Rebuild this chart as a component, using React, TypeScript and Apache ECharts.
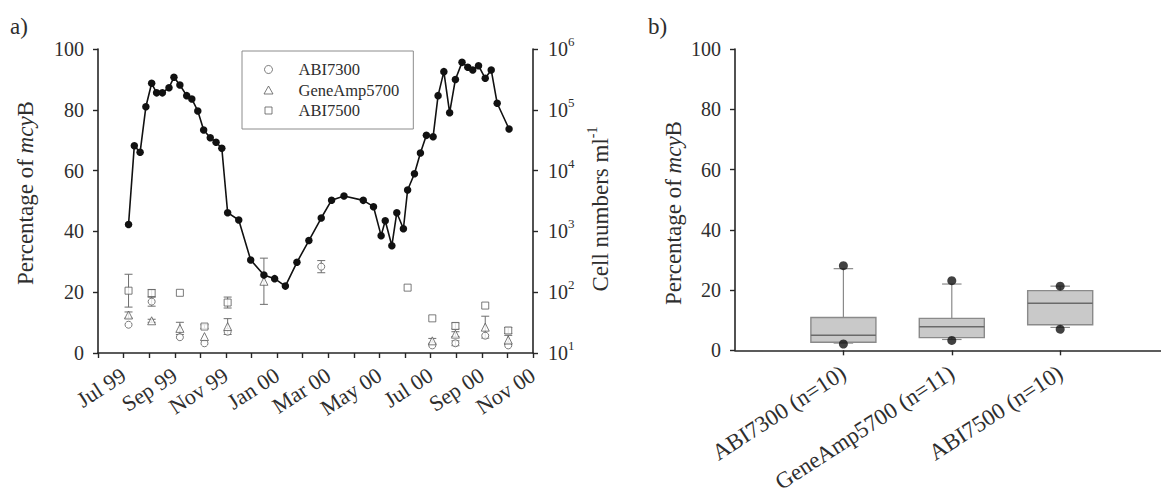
import React, { useEffect, useRef } from 'react';
import * as echarts from 'echarts';

const FONT = "'Liberation Serif', 'Times New Roman', serif";
const TEXT = '#2e2e2e';
const AXIS = '#262626';

// x-axis (left panel): month labels shown every second month
const xTickLabels = ['Jul 99', 'Sep 99', 'Nov 99', 'Jan 00', 'Mar 00', 'May 00', 'Jul 00', 'Sep 00', 'Nov 00'];
const logTickExponents = [1, 2, 3, 4, 5, 6];

// Cell numbers (cells per ml), right log axis
const cellDates = [
  '1999-07-07', '1999-07-14', '1999-07-21', '1999-07-28', '1999-08-04', '1999-08-10', '1999-08-17',
  '1999-08-25', '1999-08-31', '1999-09-07', '1999-09-15', '1999-09-21', '1999-09-28', '1999-10-05',
  '1999-10-13', '1999-10-20', '1999-10-27', '1999-11-03', '1999-11-16', '1999-11-30', '1999-12-16',
  '1999-12-29', '2000-01-11', '2000-01-25', '2000-02-08', '2000-02-22', '2000-03-05', '2000-03-20',
  '2000-04-12', '2000-04-24', '2000-05-03', '2000-05-08', '2000-05-16', '2000-05-22', '2000-05-30',
  '2000-06-04', '2000-06-12', '2000-06-19', '2000-06-26', '2000-07-04', '2000-07-10', '2000-07-17',
  '2000-07-24', '2000-07-31', '2000-08-08', '2000-08-15', '2000-08-21', '2000-08-28', '2000-09-05',
  '2000-09-12', '2000-09-19', '2000-10-03',
];
const cellCounts = [
  1300, 25700, 20000, 112000, 273000, 190000, 190000,
  231000, 343000, 256000, 171000, 151000, 95500, 46600,
  34800, 29200, 23300, 2030, 1540, 339, 192,
  167, 126, 310, 708, 1660, 3260, 3820,
  3240, 2550, 851, 1500, 582, 2030, 1107,
  4790, 8890, 19500, 38000, 36100, 171000, 424000,
  89500, 316000, 603000, 501000, 452000, 531000, 330000,
  452000, 128000, 48300,
];

// Percentage of mcyB per instrument (left axis), with error (+/-)
const abi7300Dates = ['1999-07-07', '1999-08-04', '1999-09-07', '1999-10-06', '1999-11-03', '2000-02-22', '2000-07-03', '2000-07-31', '2000-09-05', '2000-10-02'];
const abi7300Values = [9.3, 16.9, 5.2, 3.2, 7.0, 28.4, 2.5, 3.2, 5.7, 2.5];
const abi7300Errors = [0, 1.5, 0, 0, 0, 2.0, 0, 0.8, 0, 0];

const geneAmpDates = ['1999-07-07', '1999-08-04', '1999-09-07', '1999-10-06', '1999-11-03', '1999-12-16', '2000-07-03', '2000-07-31', '2000-09-05', '2000-10-02'];
const geneAmpValues = [12.5, 10.6, 8.1, 5.4, 8.7, 23.6, 4.0, 6.2, 8.5, 4.3];
const geneAmpErrors = [1.0, 0.5, 2.0, 0, 2.6, 7.6, 0.8, 0.8, 3.6, 1.5];

const abi7500Dates = ['1999-07-07', '1999-08-04', '1999-09-07', '1999-10-06', '1999-11-03', '2000-06-04', '2000-07-03', '2000-07-31', '2000-09-05', '2000-10-02'];
const abi7500Values = [20.5, 19.7, 19.8, 8.7, 16.6, 21.5, 11.4, 8.9, 15.6, 7.4];
const abi7500Errors = [5.4, 1.2, 0, 0.6, 1.8, 0, 0, 1.0, 0, 1.0];

// Box plot (right panel)
const boxCategories = ['ABI7300 (n=10)', 'GeneAmp5700 (n=11)', 'ABI7500 (n=10)'];
const boxLow = [2.4, 3.6, 7.6];
const boxQ1 = [2.7, 4.2, 8.5];
const boxMedian = [5.0, 7.8, 15.6];
const boxQ3 = [10.9, 10.6, 19.8];
const boxHigh = [27.1, 22.0, 21.3];
const boxOutLow = [2.1, 3.3, 7.0];
const boxOutHigh = [28.1, 23.1, 21.3];

// months since 1 June 1999
function toMonth(d: string): number {
  const [y, m, day] = d.split('-').map(Number);
  const dim = new Date(y, m, 0).getDate();
  return (y - 1999) * 12 + (m - 6) + (day - 1) / dim;
}

const pts = (dates: string[], vals: number[]) => dates.map((d, i) => [toMonth(d), vals[i]]);
const errPts = (dates: string[], vals: number[], errs: number[]) =>
  dates.map((d, i) => [toMonth(d), vals[i], errs[i]]);

export default function App() {
  const ref = useRef<HTMLDivElement>(null);
  useEffect(() => {
    if (!ref.current) return;
    const chart = echarts.init(ref.current, undefined, { renderer: 'svg' });

    const errorBarSeries = (data: number[][]) => ({
      type: 'custom',
      xAxisIndex: 0,
      yAxisIndex: 0,
      silent: true,
      z: 2,
      encode: { x: 0, y: 1 },
      data,
      renderItem: (_p: any, api: any) => {
        const x = api.value(0);
        const y = api.value(1);
        const e = api.value(2);
        if (!e) return null;
        const top = api.coord([x, y + e]);
        const bot = api.coord([x, y - e]);
        const hw = 4;
        const st = { stroke: '#6e6e6e', lineWidth: 1 };
        return {
          type: 'group',
          children: [
            { type: 'line', shape: { x1: top[0], y1: top[1], x2: bot[0], y2: bot[1] }, style: st },
            { type: 'line', shape: { x1: top[0] - hw, y1: top[1], x2: top[0] + hw, y2: top[1] }, style: st },
            { type: 'line', shape: { x1: bot[0] - hw, y1: bot[1], x2: bot[0] + hw, y2: bot[1] }, style: st },
          ],
        };
      },
    });

    const hollow = { color: '#fff', borderColor: '#5a5a5a', borderWidth: 1 };

    const option: any = {
      animation: false,
      backgroundColor: '#fff',
      textStyle: { fontFamily: FONT, color: TEXT },
      grid: [
        { left: 98, top: 49, width: 435, height: 304 },
        { left: 735, top: 49, width: 426, height: 303 },
      ],
      legend: {
        orient: 'vertical',
        left: 242,
        top: 51,
        data: [
          { name: 'ABI7300', icon: 'circle' },
          { name: 'GeneAmp5700', icon: 'path://M0,4M25,0L29.5,8L20.5,8ZM50,4' },
          { name: 'ABI7500', icon: 'path://M0,4M21.5,0.5H28.5V7.5H21.5ZM50,4' },
        ],
        symbolKeepAspect: true,
        itemWidth: 50,
        itemHeight: 8,
        itemGap: 3.5,
        padding: [10, 14, 10, 1],
        borderColor: '#8c8c8c',
        borderWidth: 1,
        itemStyle: { color: '#fff', borderColor: '#5a5a5a', borderWidth: 1 },
        textStyle: { fontFamily: FONT, fontSize: 16.5, color: TEXT, lineHeight: 17 },
        selectedMode: false,
      },
      xAxis: [
        {
          type: 'value',
          gridIndex: 0,
          min: 0,
          max: 17,
          interval: 1,
          splitLine: { show: false },
          axisLine: { show: true, lineStyle: { color: AXIS, width: 1.6 } },
          axisTick: { show: true, length: 5, lineStyle: { color: AXIS, width: 1.4 } },
          axisLabel: {
            rotate: 33,
            margin: 20,
            fontFamily: FONT,
            fontSize: 22,
            color: TEXT,
            formatter: (v: number) => {
              const r = Math.round(v);
              return r % 2 === 1 ? xTickLabels[(r - 1) / 2] : '';
            },
          },
        },
        {
          type: 'value',
          gridIndex: 1,
          min: 0,
          max: 3.93,
          splitLine: { show: false },
          axisLine: { show: true, lineStyle: { color: AXIS, width: 1.6 } },
          axisTick: { show: true, length: 5, customValues: [1, 2, 3], lineStyle: { color: AXIS, width: 1.4 } },
          axisLabel: {
            customValues: [1, 2, 3],
            rotate: 33,
            margin: 20,
            fontFamily: FONT,
            fontSize: 23,
            color: TEXT,
            formatter: (v: number) => boxCategories[Math.round(v) - 1] || '',
          },
        },
      ],
      yAxis: [
        {
          type: 'value',
          gridIndex: 0,
          min: 0,
          max: 100,
          interval: 20,
          splitLine: { show: false },
          axisLine: { show: true, lineStyle: { color: AXIS, width: 1.6 } },
          axisTick: { show: true, length: 5, lineStyle: { color: AXIS, width: 1.4 } },
          axisLabel: { margin: 14, fontFamily: FONT, fontSize: 20, color: TEXT },
        },
        {
          type: 'log',
          gridIndex: 0,
          position: 'right',
          logBase: 10,
          min: 10,
          max: 1000000,
          splitLine: { show: false },
          minorTick: { show: false },
          axisLine: { show: true, lineStyle: { color: AXIS, width: 1.6 } },
          axisTick: { show: true, length: 5, lineStyle: { color: AXIS, width: 1.4 } },
          axisLabel: {
            margin: 15,
            fontFamily: FONT,
            color: TEXT,
            formatter: (v: number) => {
              const e = Math.round(Math.log10(v));
              return logTickExponents.includes(e) ? `{b|10}{s|${e}}` : '';
            },
            rich: {
              b: { fontFamily: FONT, fontSize: 20, color: TEXT, lineHeight: 28 },
              s: { fontFamily: FONT, fontSize: 13, color: TEXT, lineHeight: 12, verticalAlign: 'top' },
            },
          },
        },
        {
          type: 'value',
          gridIndex: 1,
          min: 0,
          max: 100,
          interval: 20,
          splitLine: { show: false },
          axisLine: { show: true, lineStyle: { color: AXIS, width: 1.6 } },
          axisTick: { show: true, length: 5, lineStyle: { color: AXIS, width: 1.4 } },
          axisLabel: { margin: 14, fontFamily: FONT, fontSize: 20, color: TEXT },
        },
      ],
      graphic: [
        { type: 'text', left: 10, top: 15, style: { text: 'a)', fontFamily: FONT, fontSize: 23, fill: TEXT } },
        { type: 'text', left: 648, top: 15, style: { text: 'b)', fontFamily: FONT, fontSize: 23, fill: TEXT } },
        {
          type: 'text',
          x: 25,
          y: 193,
          rotation: Math.PI / 2,
          style: {
            text: '{a|Percentage of }{i|mcy}{a|B}',
            align: 'center',
            verticalAlign: 'middle',
            rich: {
              a: { fontFamily: FONT, fontSize: 23, fill: TEXT },
              i: { fontFamily: FONT, fontSize: 23, fontStyle: 'italic', fill: TEXT },
            },
          },
        },
        {
          type: 'text',
          x: 673,
          y: 213,
          rotation: Math.PI / 2,
          style: {
            text: '{a|Percentage of }{i|mcy}{a|B}',
            align: 'center',
            verticalAlign: 'middle',
            rich: {
              a: { fontFamily: FONT, fontSize: 23, fill: TEXT },
              i: { fontFamily: FONT, fontSize: 23, fontStyle: 'italic', fill: TEXT },
            },
          },
        },
        {
          type: 'text',
          x: 600,
          y: 209,
          rotation: Math.PI / 2,
          style: {
            text: '{a|Cell numbers ml}{s|-1}',
            align: 'center',
            verticalAlign: 'middle',
            rich: {
              a: { fontFamily: FONT, fontSize: 23, fill: TEXT, lineHeight: 30 },
              s: { fontFamily: FONT, fontSize: 14, fill: TEXT, lineHeight: 14, verticalAlign: 'top' },
            },
          },
        },
      ],
      series: [
        errorBarSeries(errPts(abi7300Dates, abi7300Values, abi7300Errors)),
        errorBarSeries(errPts(geneAmpDates, geneAmpValues, geneAmpErrors)),
        errorBarSeries(errPts(abi7500Dates, abi7500Values, abi7500Errors)),
        {
          name: 'ABI7300',
          type: 'scatter',
          xAxisIndex: 0,
          yAxisIndex: 0,
          symbol: 'circle',
          symbolSize: 7,
          z: 3,
          itemStyle: hollow,
          data: pts(abi7300Dates, abi7300Values),
        },
        {
          name: 'GeneAmp5700',
          type: 'scatter',
          xAxisIndex: 0,
          yAxisIndex: 0,
          symbol: 'triangle',
          symbolSize: 8,
          z: 3,
          itemStyle: hollow,
          data: pts(geneAmpDates, geneAmpValues),
        },
        {
          name: 'ABI7500',
          type: 'scatter',
          xAxisIndex: 0,
          yAxisIndex: 0,
          symbol: 'rect',
          symbolSize: 7,
          z: 3,
          itemStyle: hollow,
          data: pts(abi7500Dates, abi7500Values),
        },
        {
          name: 'Cells',
          type: 'line',
          xAxisIndex: 0,
          yAxisIndex: 1,
          symbol: 'circle',
          symbolSize: 7.5,
          z: 4,
          lineStyle: { color: '#111', width: 1.6 },
          itemStyle: { color: '#111' },
          data: pts(cellDates, cellCounts),
        },
        {
          type: 'custom',
          xAxisIndex: 1,
          yAxisIndex: 2,
          silent: true,
          z: 2,
          encode: { x: 0, y: [1, 2, 3, 4, 5] },
          data: boxCategories.map((_, i) => [i + 1, boxLow[i], boxQ1[i], boxMedian[i], boxQ3[i], boxHigh[i]]),
          renderItem: (_p: any, api: any) => {
            const pos = api.value(0);
            const lo = api.coord([pos, api.value(1)]);
            const q1 = api.coord([pos, api.value(2)]);
            const md = api.coord([pos, api.value(3)]);
            const q3 = api.coord([pos, api.value(4)]);
            const hi = api.coord([pos, api.value(5)]);
            const bw = api.size([0.6, 0])[0];
            const cw = api.size([0.18, 0])[0];
            const cx = q1[0];
            const wst = { stroke: '#8a8a8a', lineWidth: 1.2 };
            return {
              type: 'group',
              children: [
                { type: 'line', shape: { x1: cx, y1: q3[1], x2: cx, y2: hi[1] }, style: wst },
                { type: 'line', shape: { x1: cx, y1: q1[1], x2: cx, y2: lo[1] }, style: wst },
                { type: 'line', shape: { x1: cx - cw / 2, y1: hi[1], x2: cx + cw / 2, y2: hi[1] }, style: wst },
                { type: 'line', shape: { x1: cx - cw / 2, y1: lo[1], x2: cx + cw / 2, y2: lo[1] }, style: wst },
                {
                  type: 'rect',
                  shape: { x: cx - bw / 2, y: q3[1], width: bw, height: q1[1] - q3[1] },
                  style: { fill: '#c9c9c9', stroke: '#8a8a8a', lineWidth: 1.4 },
                },
                { type: 'line', shape: { x1: cx - bw / 2, y1: md[1], x2: cx + bw / 2, y2: md[1] }, style: { stroke: '#6a6a6a', lineWidth: 1.4 } },
              ],
            };
          },
        },
        {
          type: 'scatter',
          xAxisIndex: 1,
          yAxisIndex: 2,
          symbol: 'circle',
          symbolSize: 9,
          z: 4,
          itemStyle: { color: '#111' },
          data: boxCategories.flatMap((_, i) => [[i + 1, boxOutLow[i]], [i + 1, boxOutHigh[i]]]),
        },
      ],
    };

    chart.setOption(option);
    return () => chart.dispose();
  }, []);

  return (
    <div
      ref={ref}
      style={{ position: 'absolute', left: 0, top: 0, width: 1161, height: 495, background: '#fff' }}
    />
  );
}
